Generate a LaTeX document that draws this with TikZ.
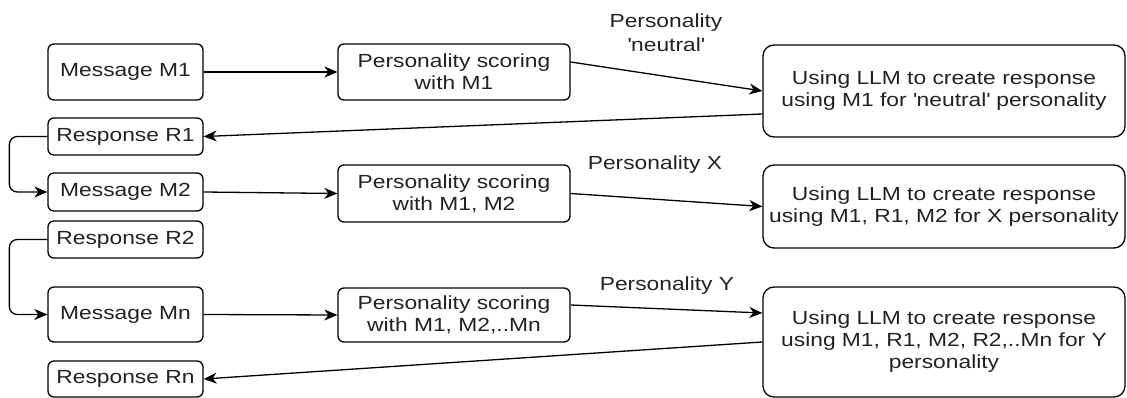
\documentclass[tikz,border=0pt]{standalone}
\usepackage{fontspec}
\setmainfont{Liberation Sans}[FakeStretch=1.2]
\usetikzlibrary{arrows.meta}
\definecolor{txt}{HTML}{222222}
\newcommand{\sq}{\textquotesingle}
\begin{document}
\begin{tikzpicture}[x=1pt,y=-1pt,
  box/.style={draw, line width=1.3pt, rounded corners=6pt, inner sep=0pt,
    align=center, text=txt, font=\fontsize{19}{22}\selectfont},
  bigbox/.style={box, rounded corners=11pt, minimum width=362pt},
  lbl/.style={inner sep=0pt, align=center, text=txt, font=\fontsize{19}{24}\selectfont},
  conn/.style={line width=1.3pt, -{Stealth[length=13pt,width=11pt,inset=4pt]}}
]
\useasboundingbox (0,0) rectangle (1127,398);

% left column
\node[box, minimum width=155pt, minimum height=56pt] (m1) at (125.5,72) {Message M1};
\node[box, minimum width=155pt, minimum height=37pt] (r1) at (125.5,136.5) {Response R1};
\node[box, minimum width=155pt, minimum height=38pt] (m2) at (125.5,192) {Message M2};
\node[box, minimum width=155pt, minimum height=37pt] (r2) at (125.5,239.5) {Response R2};
\node[box, minimum width=155pt, minimum height=55pt] (mn) at (125.5,314.5) {Message Mn};
\node[box, minimum width=155pt, minimum height=36pt] (rn) at (125.5,379) {Response Rn};

% middle column
\node[box, minimum width=232pt, minimum height=56pt] (ps1) at (454,72) {Personality scoring\\with M1};
\node[box, minimum width=232pt, minimum height=57pt] (ps2) at (454,193.5) {Personality scoring\\with M1, M2};
\node[box, minimum width=232pt, minimum height=54pt] (ps3) at (454,315) {Personality scoring\\with M1, M2,..Mn};

% right column
\node[bigbox, minimum height=92pt] (u1) at (944,91) {Using LLM to create response\\using M1 for \sq neutral\sq{} personality};
\node[bigbox, minimum height=83pt] (u2) at (944,206.5) {Using LLM to create response\\using M1, R1, M2 for X personality};
\node[bigbox, minimum height=110pt] (u3) at (944,342) {Using LLM to create response\\using M1, R1, M2, R2,..Mn for Y\\personality};

% labels
\node[lbl] (l1) at (666,33) {Personality\\\sq neutral\sq};
\node[lbl] (l2) at (655,165) {Personality X};
\node[lbl] (l3) at (667,286) {Personality Y};

% connectors
\draw[conn] (m1.east) -- (ps1.west);
\draw[conn] ([yshift=10pt]ps1.east) -- (u1.west);
\draw[conn] ([yshift=-23pt]u1.west) -- (r1.east);
\draw[conn, rounded corners=8pt] (r1.west) -- ++(-38,0) |- (m2.west);
\draw[conn] (m2.east) -- (ps2.west);
\draw[conn] (ps2.east) -- (u2.west);
\draw[conn, rounded corners=8pt] (r2.west) -- ++(-38,0) |- (mn.west);
\draw[conn] (mn.east) -- (ps3.west);
\draw[conn] ([yshift=10pt]ps3.east) -- ([yshift=29pt]u3.west);
\draw[conn] (u3.west) -- (rn.east);
\end{tikzpicture}
\end{document}
